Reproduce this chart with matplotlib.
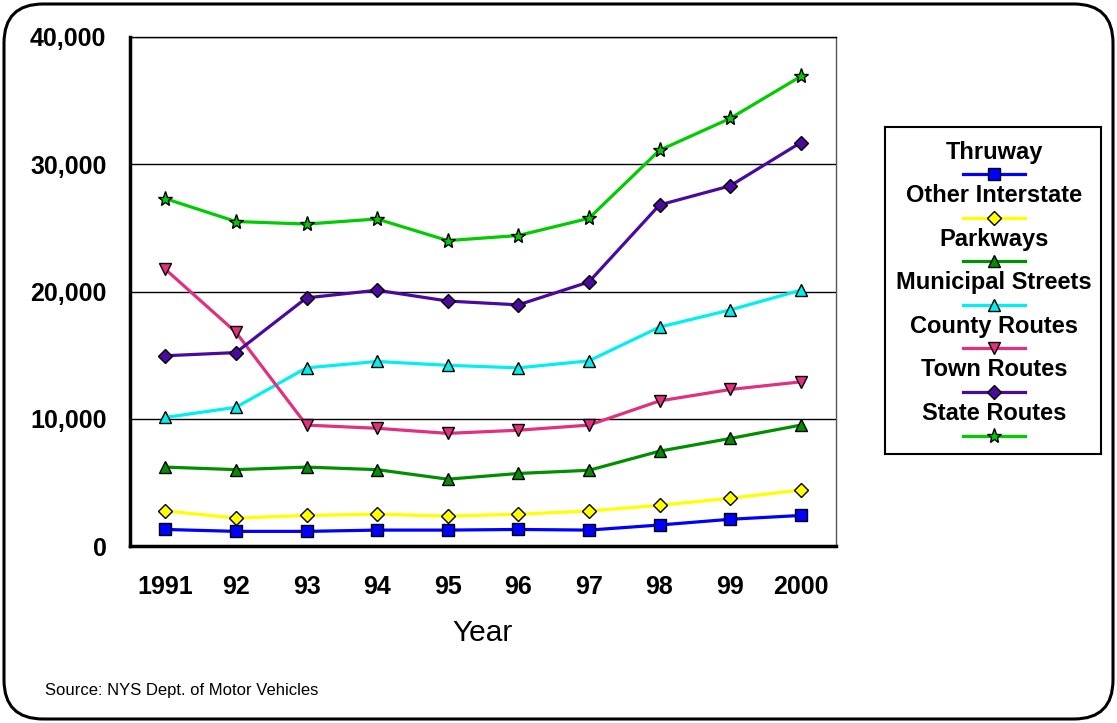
import matplotlib
matplotlib.use('Agg')
import matplotlib.pyplot as plt
from matplotlib.patches import FancyBboxPatch
from matplotlib.ticker import FuncFormatter

plt.rcParams['font.family'] = ['Liberation Sans', 'DejaVu Sans']

# Data
years = ['1991', '92', '93', '94', '95', '96', '97', '98', '99', '2000']
thruway = [1300, 1150, 1150, 1250, 1250, 1300, 1250, 1650, 2100, 2400]
other_interstate = [2750, 2200, 2400, 2500, 2350, 2500, 2750, 3200, 3750, 4400]
parkways = [6200, 6000, 6200, 6000, 5250, 5700, 5950, 7450, 8450, 9500]
municipal = [10100, 10900, 14000, 14500, 14200, 14000, 14550, 17200, 18550, 20100]
county = [21750, 16800, 9500, 9250, 8850, 9100, 9500, 11400, 12300, 12900]
town = [14950, 15200, 19500, 20100, 19250, 18950, 20750, 26800, 28300, 31700]
state = [27300, 25500, 25300, 25700, 24000, 24400, 25750, 31100, 33600, 36900]

series = [
    ('Thruway', thruway, '#0000FF', 's'),
    ('Other Interstate', other_interstate, '#FFFF00', 'D'),
    ('Parkways', parkways, '#008F00', '^'),
    ('Municipal Streets', municipal, '#00F0F0', '^'),
    ('County Routes', county, '#E0307F', 'v'),
    ('Town Routes', town, '#4B0A9E', 'D'),
    ('State Routes', state, '#00CC00', '*'),
]

fig = plt.figure(figsize=(11.17, 7.23), dpi=100)

# rounded frame around the whole chart
frame = FancyBboxPatch((4 / 1117, 4 / 723), 1109 / 1117, 715 / 723,
                       boxstyle='round,pad=0,rounding_size=0.035',
                       transform=fig.transFigure, facecolor='none',
                       edgecolor='black', linewidth=2.2, mutation_aspect=1117 / 723)
fig.patches.append(frame)

ax = fig.add_axes([130 / 1117, 177 / 723, 706 / 1117, 509 / 723])
x = list(range(len(years)))
for name, vals, color, mk in series:
    ms = 11 if mk == '*' else (7.5 if mk == 'D' else 8.5)
    ax.plot(x, vals, color=color, linewidth=2.3, marker=mk, markersize=ms,
            markerfacecolor=color, markeredgecolor='black', markeredgewidth=1,
            zorder=3)

ax.set_xlim(-0.5, 9.5)
ax.set_ylim(0, 40000)
ax.set_yticks([0, 10000, 20000, 30000, 40000])
ax.yaxis.set_major_formatter(FuncFormatter(lambda v, p: f'{int(v):,}'))
ax.set_xticks(x)
ax.set_xticklabels(years)
ax.grid(axis='y', color='black', linewidth=1)
ax.set_axisbelow(True)
ax.tick_params(length=0, labelsize=18)
ax.tick_params(axis='x', pad=21)
ax.tick_params(axis='y', pad=17)
for lbl in ax.get_xticklabels() + ax.get_yticklabels():
    lbl.set_fontweight('bold')
ax.spines['left'].set_linewidth(2.5)
ax.spines['bottom'].set_linewidth(2.5)
ax.spines['top'].set_linewidth(1)
ax.spines['right'].set_linewidth(1)
ax.spines['right'].set_color('#555555')

fig.text(483 / 1117, 1 - 633 / 723, 'Year', fontsize=21.5, ha='center', va='center')
fig.text(45 / 1117, 1 - 690 / 723, 'Source: NYS Dept. of Motor Vehicles',
         fontsize=12, ha='left', va='center')

# legend, text above each line sample
lax = fig.add_axes([885 / 1117, 1 - 454 / 723, 216 / 1117, 327 / 723])
lax.set_xlim(0, 216)
lax.set_ylim(327, 0)
lax.set_xticks([])
lax.set_yticks([])
for s in lax.spines.values():
    s.set_linewidth(1.5)
for i, (name, vals, color, mk) in enumerate(series):
    ty = 25 + i * 43.6
    lax.text(109, ty, name, fontsize=17, fontweight='bold', ha='center', va='center')
    ly = ty + 22
    ms = 11 if mk == '*' else (7.5 if mk == 'D' else 8.5)
    lax.plot([78, 140], [ly, ly], color=color, linewidth=2.3)
    lax.plot([109], [ly], marker=mk, color=color, markersize=ms,
             markeredgecolor='black', markeredgewidth=1)

plt.savefig('out.png', dpi=100)
